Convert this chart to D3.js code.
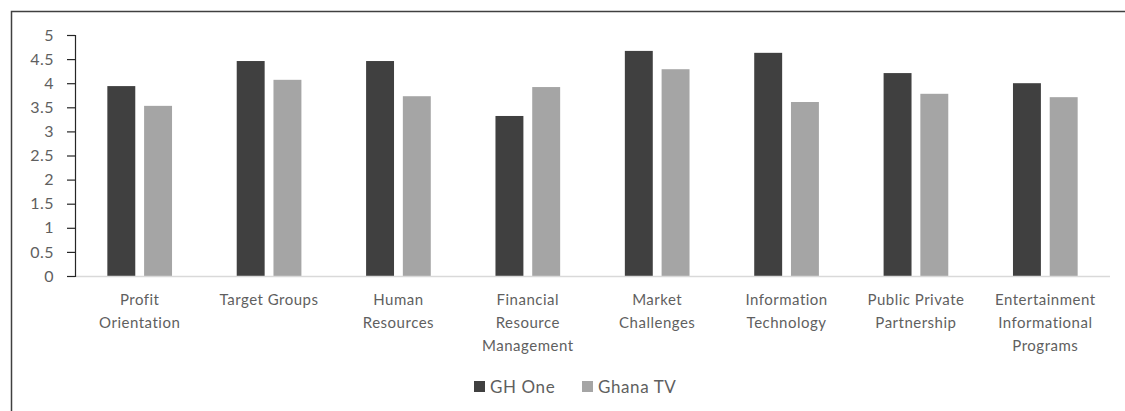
<!DOCTYPE html>
<html>
<head>
<meta charset="utf-8">
<script src="https://cdn.jsdelivr.net/npm/d3@7"></script>
<style>
    body { margin: 0; background: #fff; }
    svg { display: block; }
    .tickText { font-family: Lato, "Open Sans", sans-serif; font-size: 15px; fill: #5f5f5f; letter-spacing: 0.5px; }
    .yTick { font-size: 16px; }
</style>
</head>
<body>
<svg id="chart" width="1125" height="411"></svg>
<script>
const categories = ['Profit Orientation', 'Target Groups', 'Human Resources', 'Financial Resource Management',
    'Market Challenges', 'Information Technology', 'Public Private Partnership', 'Entertainment Informational Programs']
const categoryLines = [
    ['Profit', 'Orientation'],
    ['Target Groups'],
    ['Human', 'Resources'],
    ['Financial', 'Resource', 'Management'],
    ['Market', 'Challenges'],
    ['Information', 'Technology'],
    ['Public Private', 'Partnership'],
    ['Entertainment', 'Informational', 'Programs']
]
const seriesNames = ['GH One', 'Ghana TV']
const ghOne = [3.94, 4.46, 4.46, 3.32, 4.67, 4.63, 4.21, 4.00]
const ghanaTV = [3.53, 4.07, 3.73, 3.92, 4.29, 3.61, 3.78, 3.71]
const yTicks = [0, 0.5, 1, 1.5, 2, 2.5, 3, 3.5, 4, 4.5, 5]

const seriesColors = { 'GH One': '#404040', 'Ghana TV': '#a5a5a5' }

const style = {
    pdg: { l: 75, r: 15, t: 35, b: 135 },
    w: 1125, h: 411
}

const svg = d3.select('#chart')

// outer frame: only top and left edges are inside the picture
svg.append('path')
    .attr('d', 'M11.5,411 V11.5 H1125')
    .attr('fill', 'none')
    .attr('stroke', '#404040')
    .attr('stroke-width', 1.5)

const x0 = d3.scaleBand()
    .domain(categories)
    .range([style.pdg.l, style.w - style.pdg.r])
    .paddingInner(0.5)
    .paddingOuter(0.25)

const x1 = d3.scaleBand()
    .domain(seriesNames)
    .range([0, x0.bandwidth()])
    .paddingInner(0.24)

const y = d3.scaleLinear()
    .domain([0, 5])
    .range([style.h - style.pdg.b, style.pdg.t])

const rows = categories.map((c, i) => ({ cat: c, lines: categoryLines[i], vals: [ghOne[i], ghanaTV[i]] }))

// bars
const groups = svg.append('g')
    .selectAll(null)
    .data(rows)
    .enter()
    .append('g')
    .attr('transform', d => 'translate(' + [x0(d.cat), 0] + ')')

groups.selectAll('rect')
    .data(d => d.vals.map((v, i) => ({ key: seriesNames[i], v: v })))
    .enter()
    .append('rect')
    .attr('x', d => x1(d.key))
    .attr('width', x1.bandwidth())
    .attr('y', d => y(d.v))
    .attr('height', d => y(0) - y(d.v))
    .attr('fill', d => seriesColors[d.key])

// baseline
svg.append('line')
    .attr('x1', style.pdg.l)
    .attr('x2', style.w - style.pdg.r)
    .attr('y1', y(0) + 0.5)
    .attr('y2', y(0) + 0.5)
    .attr('stroke', '#d9d9d9')
    .attr('stroke-width', 1.5)

// y axis
const yAxisG = svg.append('g')
    .attr('transform', 'translate(' + [style.pdg.l, 0] + ')')
    .call(d3.axisLeft(y).tickValues(yTicks).tickSize(8).tickPadding(13).tickFormat(d3.format('')))

yAxisG.select('.domain').attr('stroke', '#262626').attr('stroke-width', 1.2)
yAxisG.selectAll('.tick line').attr('stroke', '#262626').attr('stroke-width', 1.2)
yAxisG.selectAll('.tick text')
    .attr('class', 'tickText yTick')
    .attr('font-family', null)
    .attr('font-size', null)
    .attr('fill', null)

// category labels
const labelG = svg.append('g')
    .selectAll(null)
    .data(rows)
    .enter()
    .append('text')
    .classed('tickText', true)
    .attr('text-anchor', 'middle')
    .attr('x', d => x0(d.cat) + x0.bandwidth() / 2)
    .attr('y', y(0) + 29)

labelG.selectAll('tspan')
    .data(d => d.lines)
    .enter()
    .append('tspan')
    .attr('x', function () { return d3.select(this.parentNode).attr('x') })
    .attr('dy', (d, i) => i === 0 ? 0 : 23)
    .text(d => d)

// legend
const legendG = svg.append('g')
    .attr('transform', 'translate(' + [474, 381] + ')')

const legendItems = legendG.selectAll(null)
    .data(seriesNames)
    .enter()
    .append('g')
    .attr('transform', (d, i) => 'translate(' + [i * 108, 0] + ')')

legendItems.append('rect')
    .attr('width', 11)
    .attr('height', 11)
    .attr('fill', d => seriesColors[d])

legendItems.append('text')
    .classed('tickText', true)
    .attr('x', 16)
    .attr('y', 11.5)
    .style('font-size', '17px')
    .style('letter-spacing', '0.6px')
    .text(d => d)
</script>
</body>
</html>
